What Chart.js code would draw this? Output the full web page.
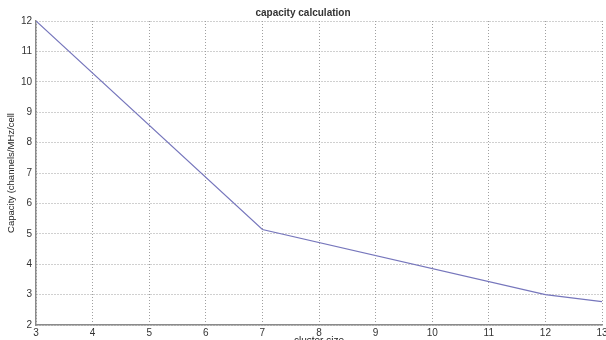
<!DOCTYPE html>
<html>
<head>
<meta charset="utf-8">
<script src="https://cdn.jsdelivr.net/npm/chart.js@4/dist/chart.umd.min.js"></script>
<style>
  html, body { margin: 0; padding: 0; background: #fff; overflow: hidden; }
  #wrap { width: 606px; height: 350px; }
</style>
</head>
<body>
<div id="wrap"><canvas id="capacityChart" width="606" height="350"></canvas></div>
<script>
// cluster sizes and the resulting capacity (channels/MHz/cell)
const clusterSizes = [3, 7, 12, 13];
const capacity = [12, 5.14, 3, 2.77];

const xRange = { min: 3, max: 13 };
const yRange = { min: 2, max: 12 };

const gridColor = "#a0a0a0";
const tickColor = "#333";
const fontFamily = "Liberation Sans, Arial, sans-serif";

document.addEventListener("DOMContentLoaded", () => {
  const ctx = document.getElementById("capacityChart").getContext("2d");
  new Chart(ctx, {
    type: "line",
    data: {
      datasets: [{
        label: "capacity",
        data: clusterSizes.map((n, i) => ({ x: n, y: capacity[i] })),
        borderColor: "#7676bc",
        borderWidth: 1.2,
        pointRadius: 0,
        tension: 0,
        fill: false
      }]
    },
    options: {
      responsive: false,
      animation: false,
      devicePixelRatio: 1,
      layout: { padding: { left: 0, right: 0, top: 0, bottom: 0 } },
      plugins: {
        legend: { display: false },
        tooltip: { enabled: false },
        title: {
          display: true,
          text: "capacity calculation",
          color: "#333",
          font: { family: fontFamily, size: 10, weight: "bold" },
          padding: { top: 7, bottom: 2 }
        }
      },
      scales: {
        x: {
          type: "linear",
          min: xRange.min,
          max: xRange.max,
          afterFit: scale => {
            scale.height = 25;
            // let the last tick label run off the right edge a little
            scale.paddingRight = 4;
          },
          ticks: {
            stepSize: 1,
            padding: 2,
            color: tickColor,
            font: { family: fontFamily, size: 10 }
          },
          grid: { color: gridColor, lineWidth: 1, drawTicks: false },
          border: { display: true, color: "#8a8a8a", width: 1.5, dash: [1, 2] },
          title: {
            display: true,
            text: "cluster size",
            color: "#222",
            font: { family: fontFamily, size: 10 },
            padding: { top: 0, bottom: 3 }
          }
        },
        y: {
          type: "linear",
          min: yRange.min,
          max: yRange.max,
          afterFit: scale => { scale.width = 36; },
          ticks: {
            stepSize: 1,
            padding: 4,
            color: tickColor,
            font: { family: fontFamily, size: 10 }
          },
          grid: { color: gridColor, lineWidth: 1, drawTicks: false },
          border: { display: true, color: "#8a8a8a", width: 1.5, dash: [1, 2] },
          title: {
            display: true,
            text: "Capacity (channels/MHz/cell",
            color: "#222",
            font: { family: fontFamily, size: 9.5 },
            padding: { top: 6, bottom: 0 }
          }
        }
      }
    }
  });
});
</script>
</body>
</html>
